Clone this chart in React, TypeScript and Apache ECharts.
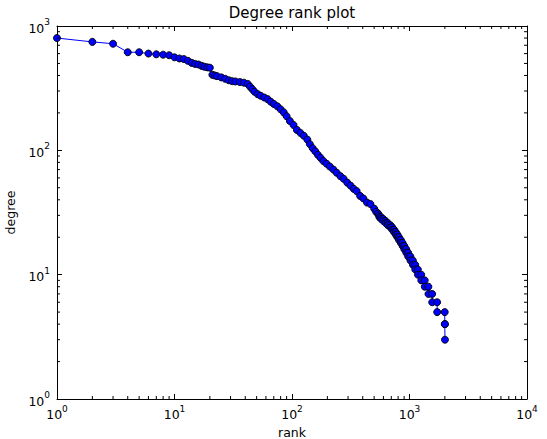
import React, { useEffect, useRef } from "react";
import * as echarts from "echarts";

const chartTitle = "Degree rank plot";
const xAxisName = "rank";
const yAxisName = "degree";

const xMajorTicks = [1, 10, 100, 1000, 10000];
const yMajorTicks = [1, 10, 100, 1000];
const minorMultipliers = [2, 3, 4, 5, 6, 7, 8, 9];

// distinct points (rank, degree) of the upper part of the curve
const headRanks = [
  1, 2, 3, 4, 5, 6, 7, 8, 9, 10, 11, 12, 13, 14, 15, 16, 17, 18, 19, 20,
  21, 22, 23, 25, 27, 29, 31, 33, 36, 39, 42, 44, 46, 48, 51, 54, 58, 62, 66, 70,
  75, 80, 85, 90, 96, 103, 110, 118, 126, 135, 142, 150, 158, 166, 175, 185, 197, 210, 225, 240,
  258, 275, 295, 315, 335, 355, 380, 405, 435, 465, 500, 520, 540, 550,
];
const headDegrees = [
  800, 745, 720, 615, 615, 600, 592, 588, 582, 560, 548, 542, 525, 505, 495, 490, 478, 470, 465, 462,
  405, 400, 395, 386, 376, 366, 360, 358, 354, 350, 342, 325, 310, 296, 283, 275, 266, 258, 246, 236,
  226, 214, 202, 188, 172, 160, 146, 138, 131, 122, 112, 104, 98, 92, 87, 82, 78, 74, 70, 66,
  62, 59, 55, 52, 49, 47, 43, 41, 38, 37, 34, 32, 31, 30,
];

// tail: each low degree is held over a range of ranks
const runDegrees = [29, 28, 27, 26, 25, 24, 23, 22, 21, 20, 19, 18, 17, 16, 15, 14, 13, 12, 11, 10, 9, 8, 7, 6, 5, 4, 3];
const runStartRanks = [555, 575, 600, 628, 655, 690, 715, 740, 765, 790, 815, 845, 875, 905, 940, 975, 1020, 1070, 1120, 1180, 1260, 1350, 1450, 1560, 1720, 1996, 2004];
const runEndRanks = [573, 598, 626, 653, 688, 713, 738, 763, 788, 813, 843, 873, 903, 938, 973, 1018, 1068, 1118, 1178, 1258, 1348, 1448, 1558, 1718, 1995, 2003, 2004];

const FONT = "DejaVu Sans";

export default function App() {
  const ref = useRef<HTMLDivElement>(null);

  useEffect(() => {
    if (!ref.current) return;
    const chart = echarts.init(ref.current, undefined, { renderer: "svg" });

    const points: number[][] = headRanks.map((r, i) => [r, headDegrees[i]]);
    runDegrees.forEach((d, i) => {
      points.push([runStartRanks[i], d]);
      if (runEndRanks[i] !== runStartRanks[i]) points.push([runEndRanks[i], d]);
    });

    const xMinor: number[] = [];
    xMajorTicks.slice(0, -1).forEach((m) => minorMultipliers.forEach((k) => xMinor.push(k * m)));
    const yMinor: number[] = [];
    yMajorTicks.slice(0, -1).forEach((m) => minorMultipliers.forEach((k) => yMinor.push(k * m)));

    const xMin = xMajorTicks[0];
    const xMax = xMajorTicks[xMajorTicks.length - 1];
    const yMin = yMajorTicks[0];
    const yMax = yMajorTicks[yMajorTicks.length - 1];

    const labelFormatter = (v: number) => `{b|10}{s|${Math.round(Math.log10(v))}}`;
    const rich = {
      b: { fontFamily: FONT, fontSize: 12.5, color: "#000", lineHeight: 17, verticalAlign: "bottom" },
      s: { fontFamily: FONT, fontSize: 9, color: "#000", lineHeight: 10, verticalAlign: "top" },
    };
    const lineStyle = { color: "#000", width: 1 };
    const tickLine = { color: "#000", width: 1 };

    const baseAxis = {
      type: "log",
      logBase: 10,
      axisLine: { show: true, onZero: false, lineStyle },
      axisTick: { show: true, inside: true, length: 5, lineStyle: tickLine },
      splitLine: { show: false },
      minorTick: { show: false },
      minorSplitLine: { show: false },
    };

    const tickStyle = { stroke: "#000", lineWidth: 1 };

    chart.setOption({
      animation: false,
      backgroundColor: "#fff",
      grid: { left: 57, right: 20, top: 26, bottom: 40, containLabel: false, outerBoundsMode: "none" },
      xAxis: [
        {
          ...baseAxis,
          min: xMin,
          max: xMax,
          position: "bottom",
          axisLabel: { formatter: labelFormatter, rich, margin: 5 },
          name: xAxisName,
          nameLocation: "middle",
          nameGap: 24,
          nameTextStyle: { fontFamily: FONT, fontSize: 12.5, color: "#000" },
        },
        {
          ...baseAxis,
          min: xMin,
          max: xMax,
          position: "top",
          axisLabel: { show: false },
          name: chartTitle,
          nameLocation: "middle",
          nameGap: 6,
          nameTextStyle: { fontFamily: FONT, fontSize: 15, color: "#000" },
        },
      ],
      yAxis: [
        {
          ...baseAxis,
          min: yMin,
          max: yMax,
          position: "left",
          axisLabel: { formatter: labelFormatter, rich, margin: 7 },
          name: yAxisName,
          nameLocation: "middle",
          nameGap: 37,
          nameRotate: 90,
          nameTextStyle: { fontFamily: FONT, fontSize: 12.5, color: "#000" },
        },
        {
          ...baseAxis,
          min: yMin,
          max: yMax,
          position: "right",
          axisLabel: { show: false },
        },
      ],
      series: [
        {
          type: "line",
          data: points,
          xAxisIndex: 0,
          yAxisIndex: 0,
          symbol: "circle",
          symbolSize: 7,
          showSymbol: true,
          lineStyle: { color: "#0000ff", width: 1 },
          itemStyle: { color: "#0000ff", borderColor: "#000", borderWidth: 0.9 },
          emphasis: { disabled: true },
          silent: true,
          clip: true,
          z: 3,
        },
        {
          type: "custom",
          xAxisIndex: 0,
          yAxisIndex: 0,
          silent: true,
          z: 5,
          data: xMinor.map((v) => [v, yMin]),
          renderItem: (_p: any, api: any) => {
            const v = api.value(0);
            const b = api.coord([v, yMin]);
            const t = api.coord([v, yMax]);
            return {
              type: "group",
              children: [
                { type: "line", shape: { x1: b[0], y1: b[1], x2: b[0], y2: b[1] - 3 }, style: tickStyle },
                { type: "line", shape: { x1: t[0], y1: t[1], x2: t[0], y2: t[1] + 3 }, style: tickStyle },
              ],
            };
          },
        },
        {
          type: "custom",
          xAxisIndex: 0,
          yAxisIndex: 0,
          silent: true,
          z: 5,
          data: yMinor.map((v) => [xMin, v]),
          renderItem: (_p: any, api: any) => {
            const v = api.value(1);
            const l = api.coord([xMin, v]);
            const r = api.coord([xMax, v]);
            return {
              type: "group",
              children: [
                { type: "line", shape: { x1: l[0], y1: l[1], x2: l[0] + 3, y2: l[1] }, style: tickStyle },
                { type: "line", shape: { x1: r[0], y1: r[1], x2: r[0] - 3, y2: r[1] }, style: tickStyle },
              ],
            };
          },
        },
      ],
    });

    return () => chart.dispose();
  }, []);

  return (
    <div
      ref={ref}
      style={{ position: "absolute", left: 0, top: 0, width: 547, height: 439, background: "#fff" }}
    />
  );
}
